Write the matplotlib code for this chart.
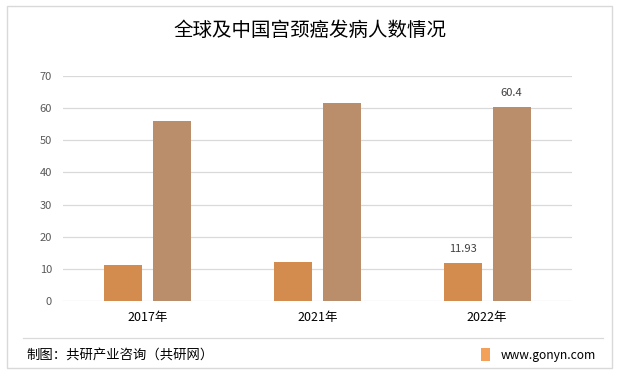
import matplotlib.pyplot as plt
import numpy as np
from matplotlib.patches import Rectangle
from matplotlib.lines import Line2D

plt.rcParams['font.family'] = ['Noto Sans CJK SC', 'DejaVu Sans']

years = ["2017年", "2021年", "2022年"]
china = [11.2, 12.1, 11.93]
world = [56.0, 61.6, 60.4]
labels_china = ["", "", "11.93"]
labels_world = ["", "", "60.4"]

fig = plt.figure(figsize=(6.19, 3.74), dpi=100)
ax = fig.add_axes([63 / 619, 1 - 301 / 374, 509 / 619, 225 / 374])

x = np.arange(len(years))
w = 0.224
off = 0.144
b1 = ax.bar(x - off, china, w, color="#D48C4E", zorder=3)
b2 = ax.bar(x + off, world, w, color="#BA8D6B", zorder=3)

for rect, lab in zip(b1, labels_china):
    if lab:
        ax.text(rect.get_x() + rect.get_width() / 2, rect.get_height() + 2.6, lab,
                ha="center", va="bottom", fontsize=8, color="#404040")
for rect, lab in zip(b2, labels_world):
    if lab:
        ax.text(rect.get_x() + rect.get_width() / 2, rect.get_height() + 2.6, lab,
                ha="center", va="bottom", fontsize=8, color="#404040")

ax.set_xlim(-0.5, 2.5)
ax.set_ylim(0, 70)
ax.set_yticks(range(0, 71, 10))
ax.set_xticks(x)
ax.set_xticklabels(years, fontsize=9, color="#000000")
ax.tick_params(axis="y", labelsize=8, labelcolor="#595959", length=0, pad=8)
ax.tick_params(axis="x", length=0, pad=7)
ax.grid(axis="y", color="#D9D9D9", linewidth=0.9, zorder=0)
for s in ax.spines.values():
    s.set_visible(False)

# outer frame, title, footer
fig.patches.append(Rectangle((7 / 619, 6 / 374), 605 / 619, 362 / 374, transform=fig.transFigure,
                             fill=False, edgecolor="#D9D9D9", linewidth=1))
fig.text(0.5, 1 - 30 / 374, "全球及中国宫颈癌发病人数情况", ha="center", va="center",
         fontsize=14, color="#000000")
fig.lines.append(Line2D([23 / 619, 603 / 619], [1 - 338 / 374] * 2, transform=fig.transFigure,
                        color="#D9D9D9", linewidth=0.9))
fig.text(26 / 619, 1 - 355 / 374, "制图：共研产业咨询（共研网）", ha="left", va="center",
         fontsize=9.6, color="#000000")
fig.text(596 / 619, 1 - 355 / 374, "www.gonyn.com", ha="right", va="center",
         fontsize=8.7, color="#000000")
fig.patches.append(Rectangle((481 / 619, 1 - 361 / 374), 9 / 619, 13 / 374, transform=fig.transFigure,
                             facecolor="#F2A05A", edgecolor="none"))

fig.savefig("out.png", dpi=100)
